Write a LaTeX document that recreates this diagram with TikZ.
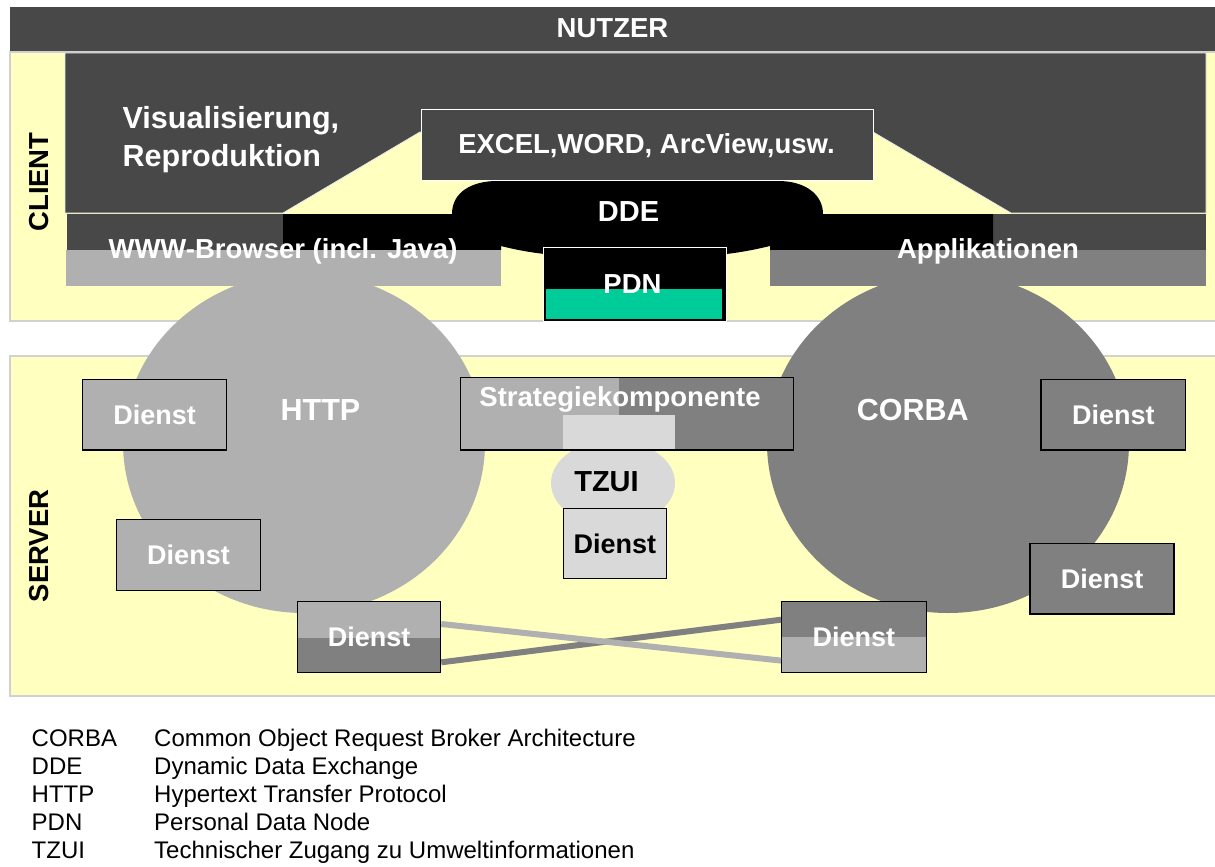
\documentclass[tikz,border=0pt]{standalone}
\usepackage{fontspec}
\setmainfont{Liberation Sans}
\usetikzlibrary{shapes.geometric}
\definecolor{dk}{HTML}{484848}
\definecolor{gB}{HTML}{B0B0B0}
\definecolor{gE}{HTML}{808080}
\definecolor{gD}{HTML}{D9D9D9}
\definecolor{ylw}{HTML}{FFFFC0}
\definecolor{grn}{HTML}{00CC99}
\newcommand\myfA{\fontsize{27.5}{33}\selectfont\bfseries}
\newcommand\myfB{\fontsize{30.5}{36}\selectfont\bfseries}
\newcommand\myfC{\fontsize{27}{32}\selectfont\bfseries}
\newcommand\myfT{\fontsize{29}{34}\selectfont\bfseries}
\newcommand\myfL{\fontsize{24}{28}\selectfont}
\begin{document}
\begin{tikzpicture}[x=1pt,y=-1pt,
  lbl/.style={text=white, inner sep=0pt, anchor=base},
  boxn/.style={inner sep=0pt, anchor=north west},
  dienst/.style={draw=black, line width=1.3pt, inner sep=0pt, anchor=north west, text=white, font=\myfC},
  region/.style={fill=ylw, draw=black!18, line width=1.5pt},
  leg/.style={anchor=base west, font=\myfL, inner sep=0pt}]
\useasboundingbox (0,0) rectangle (1215,867);
\fill[white] (0,0) rectangle (1215,867);
% NUTZER bar
\node[boxn, fill=dk, minimum width=1205, minimum height=44] (nutzerbar) at (10,7) {};
% regions
\draw[region] (10,52) rectangle (1216,321);
\draw[region] (10,356) rectangle (1216,696);
% protocol ellipses
\node[ellipse, fill=gB, minimum width=362, minimum height=340, inner sep=0pt] (http) at (304,443) {};
\node[ellipse, fill=gE, minimum width=362, minimum height=340, inner sep=0pt] (corba) at (948,443) {};
% client: visualisation block
\filldraw[fill=dk, draw=white!85!gray, line width=0.8pt] (65,53) -- (1206,53) -- (1206,213) -- (1011,213) -- (873,132) -- (420,132) -- (283,213) -- (65,213) -- cycle;
\node[boxn, fill=dk, draw=white, line width=0.8pt, minimum width=452, minimum height=71] (excel) at (421,109) {};
\fill[dk] (67,214) rectangle (283,250);
\fill[dk] (993,214) rectangle (1206,250);
% DDE
\fill[black] (283,214) -- (452,214) .. controls (452,192) and (472,181) .. (497,181) -- (778,181) .. controls (806,181) and (823,195) .. (823,214) -- (993,214) -- (993,250) -- (770,250) -- (770,246) .. controls (745,252) and (725,255) .. (700,256) -- (570,256) .. controls (545,255) and (520,251) .. (501,246) -- (501,250) -- (283,250) -- cycle;
% bars
\node[boxn, fill=gB, minimum width=435, minimum height=36] (www) at (66,250) {};
\node[boxn, fill=gE, minimum width=436, minimum height=36] (app) at (770,250) {};
% PDN
\node[boxn, fill=black, draw=white, line width=1.2pt, minimum width=183, minimum height=73.5] (pdn) at (543,247) {};
\fill[grn] (546,289) rectangle (721.5,318.5);
% client texts
\node[lbl, font=\myfA] (nutzer) at (612.5,37.3) {NUTZER};
\node[lbl, anchor=base west, font=\myfB] (vis1) at (122.5,128) {Visualisierung,};
\node[lbl, anchor=base west, font=\myfB] (vis2) at (122.5,166) {Reproduktion};
\node[lbl, font=\myfA] (excelt) at (646.5,153.3) {EXCEL,WORD, ArcView,usw.};
\node[lbl, font=\myfT] (dde) at (628.5,221.7) {DDE};
\node[lbl, font=\myfA] (wwwt) at (283,258) {WWW-Browser (incl. Java)};
\node[lbl, font=\myfA] (appt) at (988,258) {Applikationen};
\node[lbl, font=\myfA] (pdnt) at (632.5,293) {PDN};
\node[rotate=90, font=\myfA, inner sep=0pt] (client) at (39,182) {CLIENT};
\node[rotate=90, font=\myfA, inner sep=0pt] (server) at (39,546) {SERVER};
% server
\node[lbl, font=\myfB] (httpt) at (320.5,420) {HTTP};
\node[lbl, font=\myfB] (corbat) at (912.7,420) {CORBA};
\node[ellipse, fill=gD, minimum width=124, minimum height=86, inner sep=0pt] (tzuiell) at (613,483) {};
\fill[gB] (459.7,376.7) rectangle (619,449.3);
\fill[gE] (619,376.7) rectangle (793,449.3);
\fill[gD] (563,415) rectangle (674.5,449.3);
\node[boxn, draw=black, line width=1.3pt, minimum width=333.3, minimum height=72.6] (strat) at (459.7,376.7) {};
\node[lbl, font=\myfA] (stratt) at (620,406) {Strategiekomponente};
\node[lbl, text=black, font=\myfT] (tzui) at (606.5,491) {TZUI};
\node[dienst, fill=gD, text=black, minimum width=102.5, minimum height=70.3] (dT) at (563,507.7) {Dienst};
% Dienst boxes
\node[dienst, fill=gB, minimum width=144, minimum height=70.3] (d1) at (82,379) {Dienst};
\node[dienst, fill=gB, minimum width=143.7, minimum height=70.7] (d2) at (116,519) {Dienst};
\node[dienst, fill=gE, minimum width=144.6, minimum height=70.3] (d4) at (1040.4,379) {Dienst};
\node[dienst, fill=gE, minimum width=143.9, minimum height=70.6] (d5) at (1029.4,542.7) {Dienst};
\fill[gB] (297,601) rectangle (440,638.3);
\fill[gE] (297,638.3) rectangle (440,671.7);
\node[dienst, minimum width=143, minimum height=70.7] (d3) at (297,601) {Dienst};
\fill[gE] (781,601) rectangle (925.5,637.3);
\fill[gB] (781,637.3) rectangle (925.5,671.7);
\node[dienst, minimum width=144.5, minimum height=70.7] (d6) at (781,601) {Dienst};
% connections
\draw[gE, line width=6pt] ([yshift=-25.3pt]d3.east) -- ([yshift=17.3pt]d6.west);
\draw[gB, line width=6pt] ([yshift=13pt]d3.east) -- ([yshift=-23.6pt]d6.west);
% legend
\node[leg] (l1a) at (31.5,746) {CORBA};
\node[leg] (l1b) at (154,746) {Common Object Request Broker Architecture};
\node[leg] (l2a) at (31.5,774.5) {DDE};
\node[leg] (l2b) at (154,774.5) {Dynamic Data Exchange};
\node[leg] (l3a) at (31.5,802.5) {HTTP};
\node[leg] (l3b) at (154,802.5) {Hypertext Transfer Protocol};
\node[leg] (l4a) at (31.5,830.5) {PDN};
\node[leg] (l4b) at (154,830.5) {Personal Data Node};
\node[leg] (l5a) at (31.5,858.5) {TZUI};
\node[leg] (l5b) at (154,858.5) {Technischer Zugang zu Umweltinformationen};
\end{tikzpicture}
\end{document}
